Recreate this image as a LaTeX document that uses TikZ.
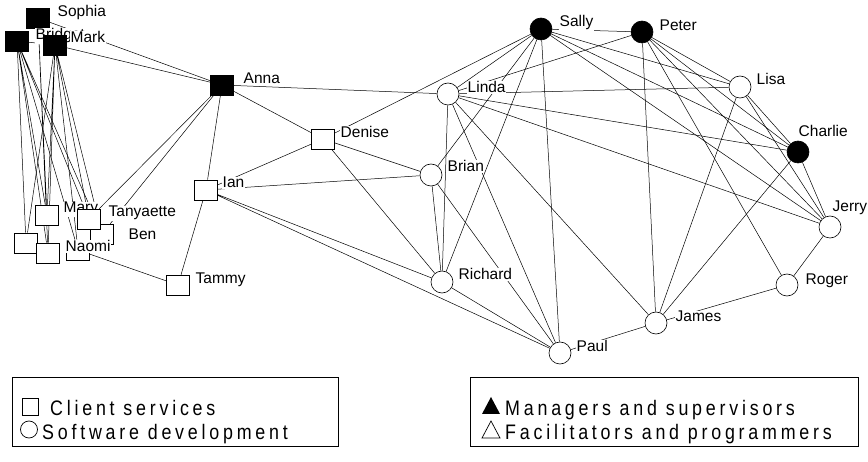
\documentclass[tikz,border=0pt]{standalone}
\usepackage{fontspec}
\setmainfont{Liberation Sans}
\newfontfamily\keyfont[LetterSpace=18, FakeStretch=0.85]{Liberation Sans}
\usetikzlibrary{backgrounds}

\begin{document}
\begin{tikzpicture}[x=1pt, y=-1pt,
  client/.style={draw, fill=white, line width=0.6pt, minimum width=23pt, minimum height=20pt, inner sep=0pt},
  boss/.style={client, fill=black},
  dev/.style={draw, fill=white, circle, line width=0.6pt, minimum size=22pt, inner sep=0pt},
  lead/.style={dev, fill=black},
  lbl/.style={fill=white, inner sep=0.5pt, anchor=base west, font=\fontsize{15.5}{16}\selectfont},
  keytext/.style={anchor=base west, inner sep=0pt, font=\keyfont\fontsize{21}{22}\selectfont},
  tie/.style={line width=0.5pt}]

\useasboundingbox (0,0) rectangle (868,462);

% Client services, left group
\node[boss] (sophia) at (38,18) {};
\node[lbl] (sophia-t) at (57,17) {Sophia};
\node[boss] (bridget) at (17,41) {};
\node[lbl] (bridget-t) at (35,40) {Bridget};
\node[boss] (mark) at (55,45) {};
\node[lbl] (mark-t) at (70,43) {Mark};
\node[client] (cs1) at (26,243) {};
\node[client] (cs2) at (78,250) {};
\node[client] (ben) at (102,234) {};
\node[lbl] (ben-t) at (128,240) {Ben};
\node[client] (mary) at (47,215) {};
\node[lbl] (mary-t) at (63,213) {Mary};
\node[client] (tany) at (89,219) {};
\node[lbl] (tany-t) at (108,217) {Tanyaette};
\node[client] (naomi) at (48,253) {};
\node[lbl] (naomi-t) at (65,252) {Naomi};

% Client services, middle
\node[boss] (anna) at (222,85) {};
\node[lbl] (anna-t) at (243,84) {Anna};
\node[client] (denise) at (323,139) {};
\node[lbl] (denise-t) at (340,138) {Denise};
\node[client] (ian) at (206,190) {};
\node[lbl] (ian-t) at (222,188) {Ian};
\node[client] (tammy) at (178,285) {};
\node[lbl] (tammy-t) at (195,284) {Tammy};

% Software development
\node[lead] (sally) at (541,29) {};
\node[lbl] (sally-t) at (559,27) {Sally};
\node[lead] (peter) at (642,32) {};
\node[lbl] (peter-t) at (659,31) {Peter};
\node[dev] (linda) at (448,94) {};
\node[lbl] (linda-t) at (467,93) {Linda};
\node[dev] (lisa) at (740,87) {};
\node[lbl] (lisa-t) at (756,85) {Lisa};
\node[lead] (charlie) at (798,152) {};
\node[lbl] (charlie-t) at (798,137) {Charlie};
\node[dev] (brian) at (431,175) {};
\node[lbl] (brian-t) at (447,172) {Brian};
\node[dev] (jerry) at (830,227) {};
\node[lbl] (jerry-t) at (832,212) {Jerry};
\node[dev] (richard) at (442,282) {};
\node[lbl] (richard-t) at (458,280) {Richard};
\node[dev] (roger) at (787,285) {};
\node[lbl] (roger-t) at (805,285) {Roger};
\node[dev] (james) at (656,323) {};
\node[lbl] (james-t) at (675,322) {James};
\node[dev] (paul) at (560,353) {};
\node[lbl] (paul-t) at (576,352) {Paul};

% Ties
\begin{scope}[on background layer]
\draw[tie] (sophia) -- (mark) (bridget) -- (mark) (sophia) -- (anna) (mark) -- (anna);
\draw[tie] (bridget) -- (mary) (bridget) -- (tany) (bridget) -- (ben)
  (bridget) -- (naomi) (bridget) -- (cs1) (bridget) -- (cs2);
\draw[tie] (mark) -- (mary) (mark) -- (tany) (mark) -- (ben)
  (mark) -- (naomi) (mark) -- (cs1) (mark) -- (cs2);
\draw[tie] (sophia) -- (mary) (sophia) -- (naomi);
\draw[tie] (anna) -- (tany) (anna) -- (ben) (anna) -- (ian) (anna) -- (denise) (anna) -- (linda);
\draw[tie] (ian) -- (tammy) (cs2) -- (tammy);
\draw[tie] (denise) -- (ian) (denise) -- (brian) (denise) -- (richard) (denise) -- (sally);
\draw[tie] (ian) -- (brian) (ian) -- (richard) (ian) -- (paul);
\draw[tie] (linda) -- (richard) (linda) -- (paul) (linda) -- (james) (linda) -- (charlie)
  (linda) -- (jerry) (linda) -- (lisa) (linda) -- (sally) (linda) -- (peter);
\draw[tie] (brian) -- (richard) (brian) -- (sally) (brian) -- (paul);
\draw[tie] (richard) -- (sally) (richard) -- (paul) (paul) -- (sally) (paul) -- (james);
\draw[tie] (james) -- (peter) (james) -- (lisa) (james) -- (charlie) (james) -- (roger);
\draw[tie] (roger) -- (peter) (roger) -- (jerry);
\draw[tie] (sally) -- (peter) (sally) -- (lisa) (sally) -- (charlie) (sally) -- (jerry);
\draw[tie] (peter) -- (lisa) (peter) -- (charlie) (peter) -- (jerry);
\draw[tie] (lisa) -- (charlie) (lisa) -- (jerry) (charlie) -- (jerry);
\end{scope}

% Legend: departments
\draw[line width=0.8pt] (12,377) rectangle (338,446);
\draw[line width=0.7pt] (22,398) rectangle (38,415);
\draw[line width=0.7pt] (29,429.5) circle (8.5);
\node[keytext] (key-cs) at (50,416) {Client services};
\node[keytext] (key-sd) at (42,439) {Software development};

% Legend: roles
\draw[line width=0.8pt] (470,377) rectangle (858,446);
\fill (482,414) -- (491,397) -- (500,414) -- cycle;
\draw[line width=0.7pt] (482,438) -- (491,421) -- (500,438) -- cycle;
\node[keytext] (key-mg) at (505,416) {Managers and supervisors};
\node[keytext] (key-fp) at (505,439) {Facilitators and programmers};

\end{tikzpicture}
\end{document}
